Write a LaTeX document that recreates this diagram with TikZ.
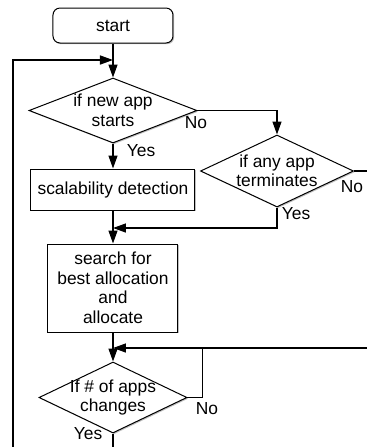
\documentclass[tikz,border=0pt]{standalone}
\usepackage{fontspec}
\setmainfont{Liberation Sans}
\usetikzlibrary{shapes.geometric,arrows.meta,shadows}

\tikzset{
  every node/.style={font=\fontsize{8.7}{9.75}\selectfont, align=center},
  shadowed/.style={drop shadow={shadow xshift=0.6pt,shadow yshift=-0.6pt,fill=black,opacity=0.25}},
  procbox/.style={draw,fill=white,line width=0.5pt,shadowed,inner sep=0pt},
  decide/.style={draw,fill=white,diamond,line width=0.5pt,shadowed,inner xsep=-12pt,inner ysep=-5pt},
  flow/.style={line width=0.7pt},
  arr/.style={flow,-{Triangle[length=6.5pt,width=4.5pt]}},
}

\begin{document}
\begin{tikzpicture}[x=0.5pt,y=-0.5pt]
 \useasboundingbox (0,0) rectangle (367,447);
 \clip (0,0) rectangle (367,447);

 % blocks
 \node [procbox,rounded corners=3.5pt,minimum width=60pt,minimum height=17.5pt] (start) at (113,25.5) {start};
 \node [decide,minimum width=84pt,minimum height=32.5pt] (newapp) at (113,110.5) {if new app\\starts};
 \node [decide,minimum width=76.5pt,minimum height=36pt] (term) at (277,171) {if any app\\terminates};
 \node [procbox,minimum width=82pt,minimum height=20.5pt] (scal) at (113,189.5) {scalability detection};
 \node [procbox,minimum width=65pt,minimum height=44pt] (search) at (113,288) {search for\\best allocation\\and\\allocate};
 \node [decide,minimum width=74pt,minimum height=35.5pt] (change) at (113,397.5) {If \# of apps\\changes};

 % junctions
 \coordinate (jtop) at (113,60);
 \coordinate (jmid) at (113,228);
 \coordinate (jlow) at (113,348);

 % connectors
 \draw [arr] (start) -- (newapp);
 \draw [arr] (newapp) -- (scal);
 \draw [arr] (newapp.east) -| (term.north);
 \draw [arr] (scal) -- (search);
 \draw [arr] (term.south) |- (jmid);
 \draw [arr] (search) -- (change);
 \draw [arr] (change.east) -- ++(15,0) |- (jlow);
 \draw [flow] (term.east) -- ++(30,0) |- (202,348);
 \draw [arr] (change.south) -- (113,462) -| (13,60) -- (jtop);

 % branch labels
 \node (yes1) at (141,151) {Yes};
 \node (no1) at (196,123) {No};
 \node (no2) at (352,187) {No};
 \node (yes2) at (296,214) {Yes};
 \node (no3) at (207,409) {No};
 \node (yes3) at (88,434) {Yes};
\end{tikzpicture}
\end{document}
